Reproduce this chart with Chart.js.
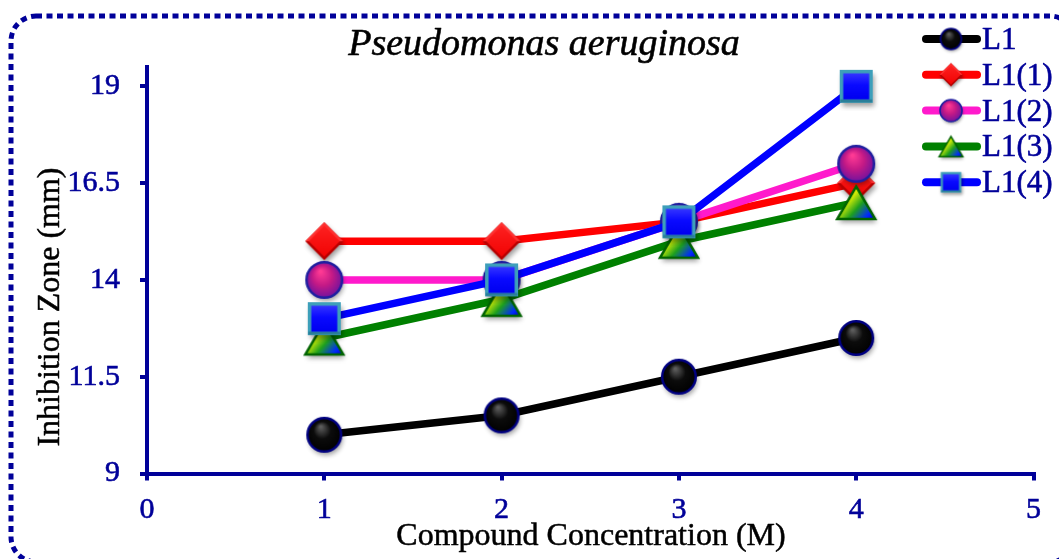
<!DOCTYPE html>
<html>
<head>
<meta charset="utf-8">
<title>Pseudomonas aeruginosa</title>
<script src="https://cdn.jsdelivr.net/npm/chart.js@4.4.1/dist/chart.umd.min.js"></script>
<style>
  html, body { margin: 0; padding: 0; background: #fff; }
  #wrap { width: 1059px; height: 559px; }
</style>
</head>
<body>
<div id="wrap"><canvas id="chart" width="1059" height="559"></canvas></div>
<script>
// ---- DATA ----
const concentrations = [1, 2, 3, 4];
const seriesNames = ['L1', 'L1(1)', 'L1(2)', 'L1(3)', 'L1(4)'];
const zoneL1 = [10, 10.5, 11.5, 12.5];
const zoneL1_1 = [15, 15, 15.5, 16.5];
const zoneL1_2 = [14, 14, 15.5, 17];
const zoneL1_3 = [12.5, 13.5, 15, 16];
const zoneL1_4 = [13, 14, 15.5, 19];
const xTickValues = [0, 1, 2, 3, 4, 5];
const yTickValues = [9, 11.5, 14, 16.5, 19];

const axisBlue = '#000099';
const serif = "'Liberation Serif', 'Times New Roman', serif";
const lineColors = ['#000000', '#ff0000', '#ff1acc', '#008000', '#0000ff'];

// ---- MARKERS (drawn once into small canvases, used as pointStyle) ----
function newCanvas(w, h) {
  const c = document.createElement('canvas');
  c.width = Math.ceil(w);
  c.height = Math.ceil(h);
  return c;
}
function shadowOn(g, k) {
  g.shadowColor = 'rgba(0,0,0,0.38)';
  g.shadowBlur = 5 * k;
  g.shadowOffsetX = 1.5 * k;
  g.shadowOffsetY = 3.5 * k;
}
function shadowOff(g) {
  g.shadowColor = 'rgba(0,0,0,0)';
  g.shadowBlur = 0;
  g.shadowOffsetX = 0;
  g.shadowOffsetY = 0;
}

function ballMarker(d, k, stops, edge) {
  d = d * k;
  const pad = 8, c = newCanvas(d + pad * 2, d + pad * 2), g = c.getContext('2d');
  const m = c.width / 2, r = d / 2;
  g.beginPath();
  g.arc(m, m, r - 1.2 * k, 0, Math.PI * 2);
  shadowOn(g, k);
  g.fillStyle = stops[stops.length - 1][1];
  g.fill();
  shadowOff(g);
  const grad = g.createRadialGradient(m - r * 0.2, m - r * 0.45, r * 0.05, m, m, r);
  stops.forEach((s) => grad.addColorStop(s[0], s[1]));
  g.fillStyle = grad;
  g.fill();
  g.lineWidth = 2.5 * k;
  g.strokeStyle = edge;
  g.stroke();
  return c;
}

function diamondMarker(k) {
  const s = 38 * k, pad = 8, c = newCanvas(s + pad * 2, s + pad * 2), g = c.getContext('2d');
  const m = c.width / 2, r = s / 2;
  const path = (rr) => {
    g.beginPath();
    g.moveTo(m, m - rr);
    g.lineTo(m + rr, m);
    g.lineTo(m, m + rr);
    g.lineTo(m - rr, m);
    g.closePath();
  };
  path(r);
  shadowOn(g, k);
  g.fillStyle = '#b80000';
  g.fill();
  shadowOff(g);
  // lighter upper bevel
  g.beginPath();
  g.moveTo(m - r, m);
  g.lineTo(m, m - r);
  g.lineTo(m + r, m);
  g.closePath();
  g.fillStyle = '#ff3030';
  g.fill();
  path(r - 3.5 * k);
  const grad = g.createLinearGradient(m, m - r, m, m + r);
  grad.addColorStop(0, '#ff2424');
  grad.addColorStop(1, '#f00000');
  g.fillStyle = grad;
  g.fill();
  return c;
}

function triangleMarker(k) {
  const w = 40 * k, h = 35 * k, pad = 8, c = newCanvas(w + pad * 2, h + pad * 2), g = c.getContext('2d');
  const x0 = (c.width - w) / 2, y0 = (c.height - h) / 2;
  g.beginPath();
  g.moveTo(x0 + w / 2, y0 + 1.5 * k);
  g.lineTo(x0 + w - 1 * k, y0 + h - 1 * k);
  g.lineTo(x0 + 1 * k, y0 + h - 1 * k);
  g.closePath();
  shadowOn(g, k);
  g.fillStyle = '#208020';
  g.fill();
  shadowOff(g);
  const grad = g.createLinearGradient(x0 + w * 0.1, y0 + h * 0.2, x0 + w * 0.9, y0 + h);
  grad.addColorStop(0, '#ff8a00');
  grad.addColorStop(0.22, '#ffff00');
  grad.addColorStop(0.55, '#1ea01e');
  grad.addColorStop(0.85, '#0028ff');
  grad.addColorStop(1, '#0000d0');
  g.fillStyle = grad;
  g.fill();
  g.lineWidth = 2.5 * k;
  g.lineJoin = 'miter';
  g.strokeStyle = '#006400';
  g.stroke();
  return c;
}

function squareMarker(k) {
  const s = 33 * k, pad = 8, c = newCanvas(s + pad * 2, s + pad * 2), g = c.getContext('2d');
  const x0 = (c.width - s) / 2, y0 = (c.height - s) / 2, b = 3.5 * k;
  shadowOn(g, k);
  g.fillStyle = '#3d9fba';
  g.fillRect(x0, y0, s, s);
  shadowOff(g);
  g.fillStyle = '#2a7f98';
  g.fillRect(x0 + 0.5, y0 + s - b, s - 1, b - 0.5);
  const grad = g.createLinearGradient(0, y0 + b, 0, y0 + s - b);
  grad.addColorStop(0, '#3434ff');
  grad.addColorStop(0.45, '#0a0aff');
  grad.addColorStop(1, '#0000f0');
  g.fillStyle = grad;
  g.fillRect(x0 + b, y0 + b, s - 2 * b, s - 2 * b);
  return c;
}

function makeMarkers(k) {
  return [
    ballMarker(36, k, [[0, '#5c5c5c'], [0.45, '#0c0c0c'], [1, '#000000']], '#000080'),
    diamondMarker(k),
    ballMarker(38, k, [[0, '#ff3a94'], [0.5, '#c41a86'], [1, '#6c12a0']], '#1f1fa0'),
    triangleMarker(k),
    squareMarker(k)
  ];
}
const pointMarkers = makeMarkers(1);
const legendMarkers = makeMarkers(0.62);

// text with a hairline stroke so it reads as heavy as the original
function boldish(ctx, text, x, y, w) {
  ctx.lineWidth = w;
  ctx.strokeStyle = ctx.fillStyle;
  ctx.fillText(text, x, y);
  ctx.strokeText(text, x, y);
}

// ---- DECORATION: frame, titles, legend ----
const decor = {
  id: 'decor',
  beforeDraw(chart) {
    const ctx = chart.ctx;
    ctx.save();
    ctx.strokeStyle = axisBlue;
    ctx.lineWidth = 5;
    ctx.setLineDash([6, 4.5]);
    ctx.beginPath();
    ctx.roundRect(11, 16, 1064, 546, 25);
    ctx.stroke();
    ctx.restore();
  },
  afterDraw(chart) {
    const ctx = chart.ctx;
    ctx.save();
    ctx.fillStyle = '#000';
    ctx.textAlign = 'center';
    ctx.textBaseline = 'alphabetic';
    ctx.lineJoin = 'round';

    ctx.font = 'italic 38px ' + serif;
    boldish(ctx, 'Pseudomonas aeruginosa', 544, 55, 0.6);

    ctx.font = '32px ' + serif;
    boldish(ctx, 'Compound Concentration (M)', 591, 545, 0.5);

    ctx.save();
    ctx.translate(59, 307);
    ctx.rotate(-Math.PI / 2);
    boldish(ctx, 'Inhibition Zone (mm)', 0, 0, 0.5);
    ctx.restore();

    // legend
    ctx.textAlign = 'left';
    ctx.font = '31px ' + serif;
    chart.data.datasets.forEach((ds, i) => {
      const y = 39 + i * 35.8;
      ctx.strokeStyle = ds.borderColor;
      ctx.lineWidth = 8;
      ctx.lineCap = 'round';
      ctx.beginPath();
      ctx.moveTo(926, y);
      ctx.lineTo(977, y);
      ctx.stroke();
      const mk = legendMarkers[i];
      ctx.drawImage(mk, 951 - mk.width / 2, y - mk.height / 2);
      ctx.fillStyle = axisBlue;
      boldish(ctx, ds.label, 982, y + 10, 0.6);
    });
    ctx.restore();
  }
};

// ---- CHART ----
const allSeries = [zoneL1, zoneL1_1, zoneL1_2, zoneL1_3, zoneL1_4];

const datasets = allSeries.map((values, i) => ({
  label: seriesNames[i],
  data: concentrations.map((x, j) => ({ x: x, y: values[j] })),
  borderColor: lineColors[i],
  backgroundColor: lineColors[i],
  borderWidth: 7.5,
  tension: 0,
  pointStyle: pointMarkers[i],
  pointRadius: 18,
  pointHoverRadius: 18,
  clip: false,
  order: allSeries.length - i
}));

const tickFont = { family: serif, size: 30 };

new Chart(document.getElementById('chart'), {
  type: 'line',
  data: { datasets: datasets },
  options: {
    responsive: false,
    animation: false,
    devicePixelRatio: 1,
    layout: { padding: { left: 0, top: 67, right: 22, bottom: 0 } },
    plugins: {
      legend: { display: false },
      title: { display: false },
      tooltip: { enabled: false }
    },
    scales: {
      x: {
        type: 'linear',
        min: 0,
        max: 5,
        afterBuildTicks: (scale) => { scale.ticks = xTickValues.map((v) => ({ value: v })); },
        afterFit: (scale) => { scale.height = 85.5; },
        grid: { display: true, drawOnChartArea: false, drawTicks: true, tickLength: 7, color: axisBlue, lineWidth: 4 },
        border: { display: true, color: axisBlue, width: 4 },
        ticks: { color: axisBlue, font: tickFont, padding: 12, maxRotation: 0, textStrokeColor: axisBlue, textStrokeWidth: 0.6 }
      },
      y: {
        type: 'linear',
        min: 9,
        max: 19.5,
        afterBuildTicks: (scale) => { scale.ticks = yTickValues.map((v) => ({ value: v })); },
        afterFit: (scale) => { scale.width = 147; },
        grid: { display: true, drawOnChartArea: false, drawTicks: true, tickLength: 7, color: axisBlue, lineWidth: 4 },
        border: { display: true, color: axisBlue, width: 4 },
        ticks: { color: axisBlue, font: tickFont, padding: 20, textStrokeColor: axisBlue, textStrokeWidth: 0.6 }
      }
    }
  },
  plugins: [decor]
});
</script>
</body>
</html>
